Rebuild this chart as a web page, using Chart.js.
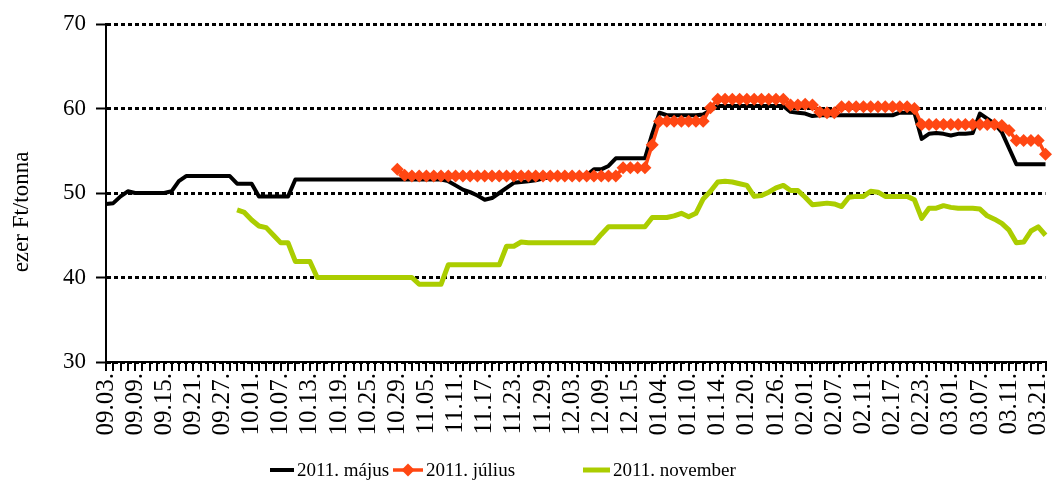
<!DOCTYPE html>
<html><head><meta charset="utf-8">
<script src="https://cdn.jsdelivr.net/npm/chart.js@4.4.0/dist/chart.umd.min.js"></script>
<style>html,body{margin:0;padding:0;background:#fff;}canvas{display:block;}</style>
</head><body>
<canvas id="c" width="1052" height="488"></canvas>
<script>
// ---- data ----
const tickLabels = ['09.03.','09.09.','09.15.','09.21.','09.27.','10.01.','10.07.','10.13.','10.19.','10.25.','10.29.','11.05.','11.11.','11.17.','11.23.','11.29.','12.03.','12.09.','12.15.','01.04.','01.10.','01.14.','01.20.','01.26.','02.01.','02.07.','02.11.','02.17.','02.23.','03.01.','03.07.','03.11.','03.21.'];
const seriesNames = ['2011. május','2011. július','2011. november'];
const yTitle = 'ezer Ft/tonna';

const maj = [48.7,48.8,49.6,50.2,50.0,50.0,50.0,50.0,50.0,50.2,
51.4,52.0,52.0,52.0,52.0,52.0,52.0,52.0,51.1,51.1,
51.1,49.6,49.6,49.6,49.6,49.6,51.6,51.6,51.6,51.6,
51.6,51.6,51.6,51.6,51.6,51.6,51.6,51.6,51.6,51.6,
51.6,51.6,51.6,51.6,51.6,51.6,51.6,51.4,50.9,50.4,
50.1,49.7,49.2,49.4,50.0,50.6,51.2,51.3,51.4,51.5,
51.7,51.9,52.0,52.0,52.0,52.0,52.1,52.8,52.8,53.2,
54.1,54.1,54.1,54.1,54.1,57.0,59.5,59.2,59.2,59.2,
59.2,59.2,59.3,59.8,60.3,60.3,60.3,60.3,60.3,60.3,
60.3,60.3,60.3,60.3,59.6,59.5,59.4,59.1,59.2,59.2,
59.2,59.2,59.2,59.2,59.2,59.2,59.2,59.2,59.2,59.5,
59.5,59.5,56.4,57.0,57.1,57.0,56.8,57.0,57.0,57.1,
59.4,58.8,58.2,57.2,55.3,53.4,53.4,53.4,53.4,53.4];

const jul = [null,null,null,null,null,null,null,null,null,null,
null,null,null,null,null,null,null,null,null,null,
null,null,null,null,null,null,null,null,null,null,
null,null,null,null,null,null,null,null,null,null,
52.8,52.1,52.0,52.0,52.0,52.0,52.0,52.0,52.0,52.0,
52.0,52.0,52.0,52.0,52.0,52.0,52.0,52.0,52.0,52.0,
52.0,52.0,52.0,52.0,52.0,52.0,52.0,52.0,52.0,52.0,
52.0,53.0,53.0,53.0,53.0,55.7,58.5,58.5,58.5,58.5,
58.5,58.5,58.5,60.1,61.1,61.1,61.1,61.1,61.1,61.1,
61.1,61.1,61.1,61.1,60.4,60.4,60.5,60.4,59.6,59.5,
59.5,60.2,60.2,60.2,60.2,60.2,60.2,60.2,60.2,60.2,
60.2,60.0,58.1,58.1,58.1,58.1,58.1,58.1,58.1,58.1,
58.1,58.1,58.1,58.0,57.4,56.2,56.2,56.2,56.2,54.6];

const nov = [null,null,null,null,null,null,null,null,null,null,
null,null,null,null,null,null,null,null,48.0,47.7,
46.8,46.1,45.9,45.0,44.1,44.1,41.9,41.9,41.9,40.0,
40.0,40.0,40.0,40.0,40.0,40.0,40.0,40.0,40.0,40.0,
40.0,40.0,40.0,39.2,39.2,39.2,39.2,41.5,41.5,41.5,
41.5,41.5,41.5,41.5,41.5,43.7,43.7,44.2,44.1,44.1,
44.1,44.1,44.1,44.1,44.1,44.1,44.1,44.1,45.1,46.0,
46.0,46.0,46.0,46.0,46.0,47.1,47.1,47.1,47.3,47.6,
47.2,47.6,49.3,50.2,51.3,51.4,51.3,51.1,50.9,49.6,
49.7,50.1,50.6,50.9,50.3,50.3,49.5,48.6,48.7,48.8,
48.7,48.4,49.5,49.6,49.6,50.2,50.1,49.6,49.6,49.6,
49.6,49.2,47.0,48.2,48.2,48.5,48.3,48.2,48.2,48.2,
48.1,47.3,46.9,46.4,45.6,44.1,44.2,45.5,46.0,45.0];

// one category per trading day, labelled every 4th day
const categories = maj.map((_, i) => (i % 4 === 0 && tickLabels[i / 4]) ? tickLabels[i / 4] : '');

// ---- styles ----
const FONT = '"Liberation Serif", "Times New Roman", serif';
const BLACK = '#000000';
const ORANGE = '#ff4713';
const GREEN = '#abcd00';

const yTitlePlugin = {
  id: 'yTitle',
  afterDraw(chart) {
    const ctx = chart.ctx;
    ctx.save();
    ctx.translate(22, 212);
    ctx.rotate(-Math.PI / 2);
    ctx.font = '23px ' + FONT;
    ctx.fillStyle = '#000';
    ctx.textAlign = 'center';
    ctx.textBaseline = 'middle';
    ctx.fillText(yTitle, 0, 0);
    ctx.restore();
  }
};

const legendPlugin = {
  id: 'bottomLegend',
  afterDraw(chart) {
    const ctx = chart.ctx;
    const y = 470;
    const items = [
      {x1: 270, x2: 294, tx: 297, color: BLACK, w: 4, diamond: false, text: seriesNames[0]},
      {x1: 393, x2: 423, tx: 426, color: ORANGE, w: 3.5, diamond: true, text: seriesNames[1]},
      {x1: 583, x2: 610, tx: 613, color: GREEN, w: 5, diamond: false, text: seriesNames[2]}
    ];
    ctx.save();
    items.forEach(it => {
      ctx.strokeStyle = it.color;
      ctx.lineWidth = it.w;
      ctx.beginPath();
      ctx.moveTo(it.x1, y);
      ctx.lineTo(it.x2, y);
      ctx.stroke();
      if (it.diamond) {
        const cx = (it.x1 + it.x2) / 2, r = 6.5;
        ctx.fillStyle = it.color;
        ctx.beginPath();
        ctx.moveTo(cx - r, y); ctx.lineTo(cx, y - r); ctx.lineTo(cx + r, y); ctx.lineTo(cx, y + r);
        ctx.closePath();
        ctx.fill();
      }
      ctx.fillStyle = '#000';
      ctx.font = '19px ' + FONT;
      ctx.textAlign = 'left';
      ctx.textBaseline = 'middle';
      ctx.fillText(it.text, it.tx, y + 1);
    });
    ctx.restore();
  }
};

new Chart(document.getElementById('c'), {
  type: 'line',
  data: {
    labels: categories,
    datasets: [
      {label: seriesNames[0], data: maj, borderColor: BLACK, backgroundColor: BLACK, borderWidth: 4,
       pointRadius: 0, order: 2},
      {label: seriesNames[1], data: jul, borderColor: ORANGE, backgroundColor: ORANGE, borderWidth: 3.5,
       pointStyle: 'rectRot', pointRadius: 6.5, pointBorderWidth: 0, pointBackgroundColor: ORANGE, order: 1},
      {label: seriesNames[2], data: nov, borderColor: GREEN, backgroundColor: GREEN, borderWidth: 5,
       pointRadius: 0, order: 3}
    ]
  },
  options: {
    responsive: false,
    animation: false,
    devicePixelRatio: 1,
    layout: {padding: {left: 0, right: 3, top: 24, bottom: 0}},
    plugins: {legend: {display: false}, tooltip: {enabled: false}, title: {display: false}},
    elements: {line: {tension: 0, borderJoinStyle: 'round'}},
    scales: {
      x: {
        type: 'category',
        offset: false,
        grid: {display: true, drawOnChartArea: false, drawTicks: true, tickLength: 9, color: '#000', lineWidth: 2},
        border: {display: true, color: '#000', width: 2},
        ticks: {autoSkip: false, minRotation: 90, maxRotation: 90, padding: 2, color: '#000',
                font: {family: FONT, size: 25}},
        afterFit(s) { s.height = 126; s.paddingLeft = 0; s.paddingRight = 0; }
      },
      y: {
        min: 30, max: 70,
        ticks: {stepSize: 10, padding: 10, color: '#000', font: {family: FONT, size: 23}},
        grid: {color: '#000', lineWidth: 3, drawTicks: true, tickLength: 10, tickColor: '#000', tickWidth: 2},
        border: {display: true, color: '#000', width: 2, dash: [4, 3]},
        afterFit(s) { s.width = 106; s.paddingTop = 0; s.paddingBottom = 0; }
      }
    }
  },
  plugins: [yTitlePlugin, legendPlugin]
});
</script>
</body></html>
